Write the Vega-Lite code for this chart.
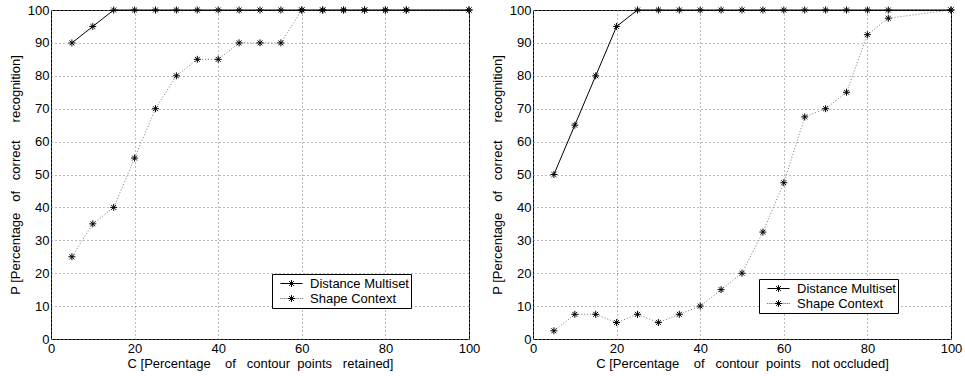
{
  "$schema": "https://vega.github.io/schema/vega-lite/v6.json",
  "padding": {"left": 8, "top": 3, "right": 0, "bottom": 0},
  "spacing": 9,
  "resolve": {"scale": {"shape": "independent"}, "legend": {"shape": "independent"}},
  "config": {
    "font": "Liberation Sans",
    "view": {"stroke": "black", "strokeWidth": 1},
    "axis": {
      "labelFont": "Liberation Sans", "labelFontSize": 13, "labelColor": "black", "labelFlush": false,
      "titleFont": "Liberation Sans", "titleFontSize": 13, "titleFontWeight": "normal", "titleColor": "black",
      "domain": false, "ticks": false,
      "grid": true, "gridColor": "#777", "gridDash": [1, 3], "gridWidth": 1, "gridOpacity": 1
    },
    "axisX": {"labelPadding": 3, "titlePadding": 2},
    "axisY": {"labelPadding": 2, "titlePadding": 5},
    "legend": {
      "labelFont": "Liberation Sans", "labelFontSize": 13, "labelColor": "black",
      "strokeColor": "black", "fillColor": "white", "padding": 2, "rowPadding": 0,
      "labelOffset": 11, "symbolOffset": 10, "symbolStrokeColor": "black", "symbolFillColor": "transparent",
      "symbolStrokeWidth": 1, "symbolSize": 190, "symbolOpacity": 1
    }
  },
  "datasets": {
    "left": [
      {"c": 5, "p": 90, "series": "Distance Multiset"},
      {"c": 10, "p": 95, "series": "Distance Multiset"},
      {"c": 15, "p": 100, "series": "Distance Multiset"},
      {"c": 20, "p": 100, "series": "Distance Multiset"},
      {"c": 25, "p": 100, "series": "Distance Multiset"},
      {"c": 30, "p": 100, "series": "Distance Multiset"},
      {"c": 35, "p": 100, "series": "Distance Multiset"},
      {"c": 40, "p": 100, "series": "Distance Multiset"},
      {"c": 45, "p": 100, "series": "Distance Multiset"},
      {"c": 50, "p": 100, "series": "Distance Multiset"},
      {"c": 55, "p": 100, "series": "Distance Multiset"},
      {"c": 60, "p": 100, "series": "Distance Multiset"},
      {"c": 65, "p": 100, "series": "Distance Multiset"},
      {"c": 70, "p": 100, "series": "Distance Multiset"},
      {"c": 75, "p": 100, "series": "Distance Multiset"},
      {"c": 80, "p": 100, "series": "Distance Multiset"},
      {"c": 85, "p": 100, "series": "Distance Multiset"},
      {"c": 100, "p": 100, "series": "Distance Multiset"},
      {"c": 5, "p": 25, "series": "Shape Context"},
      {"c": 10, "p": 35, "series": "Shape Context"},
      {"c": 15, "p": 40, "series": "Shape Context"},
      {"c": 20, "p": 55, "series": "Shape Context"},
      {"c": 25, "p": 70, "series": "Shape Context"},
      {"c": 30, "p": 80, "series": "Shape Context"},
      {"c": 35, "p": 85, "series": "Shape Context"},
      {"c": 40, "p": 85, "series": "Shape Context"},
      {"c": 45, "p": 90, "series": "Shape Context"},
      {"c": 50, "p": 90, "series": "Shape Context"},
      {"c": 55, "p": 90, "series": "Shape Context"},
      {"c": 60, "p": 100, "series": "Shape Context"},
      {"c": 65, "p": 100, "series": "Shape Context"},
      {"c": 70, "p": 100, "series": "Shape Context"},
      {"c": 75, "p": 100, "series": "Shape Context"},
      {"c": 80, "p": 100, "series": "Shape Context"},
      {"c": 85, "p": 100, "series": "Shape Context"},
      {"c": 100, "p": 100, "series": "Shape Context"}
    ],
    "right": [
      {"c": 5, "p": 50, "series": "Distance Multiset"},
      {"c": 10, "p": 65, "series": "Distance Multiset"},
      {"c": 15, "p": 80, "series": "Distance Multiset"},
      {"c": 20, "p": 95, "series": "Distance Multiset"},
      {"c": 25, "p": 100, "series": "Distance Multiset"},
      {"c": 30, "p": 100, "series": "Distance Multiset"},
      {"c": 35, "p": 100, "series": "Distance Multiset"},
      {"c": 40, "p": 100, "series": "Distance Multiset"},
      {"c": 45, "p": 100, "series": "Distance Multiset"},
      {"c": 50, "p": 100, "series": "Distance Multiset"},
      {"c": 55, "p": 100, "series": "Distance Multiset"},
      {"c": 60, "p": 100, "series": "Distance Multiset"},
      {"c": 65, "p": 100, "series": "Distance Multiset"},
      {"c": 70, "p": 100, "series": "Distance Multiset"},
      {"c": 75, "p": 100, "series": "Distance Multiset"},
      {"c": 80, "p": 100, "series": "Distance Multiset"},
      {"c": 85, "p": 100, "series": "Distance Multiset"},
      {"c": 100, "p": 100, "series": "Distance Multiset"},
      {"c": 5, "p": 2.5, "series": "Shape Context"},
      {"c": 10, "p": 7.5, "series": "Shape Context"},
      {"c": 15, "p": 7.5, "series": "Shape Context"},
      {"c": 20, "p": 5, "series": "Shape Context"},
      {"c": 25, "p": 7.5, "series": "Shape Context"},
      {"c": 30, "p": 5, "series": "Shape Context"},
      {"c": 35, "p": 7.5, "series": "Shape Context"},
      {"c": 40, "p": 10, "series": "Shape Context"},
      {"c": 45, "p": 15, "series": "Shape Context"},
      {"c": 50, "p": 20, "series": "Shape Context"},
      {"c": 55, "p": 32.5, "series": "Shape Context"},
      {"c": 60, "p": 47.5, "series": "Shape Context"},
      {"c": 65, "p": 67.5, "series": "Shape Context"},
      {"c": 70, "p": 70, "series": "Shape Context"},
      {"c": 75, "p": 75, "series": "Shape Context"},
      {"c": 80, "p": 92.5, "series": "Shape Context"},
      {"c": 85, "p": 97.5, "series": "Shape Context"},
      {"c": 100, "p": 100, "series": "Shape Context"}
    ]
  },
  "hconcat": [
    {
      "width": 418, "height": 329,
      "data": {"name": "left"},
      "encoding": {
        "x": {"field": "c", "type": "quantitative", "scale": {"domain": [0, 100], "nice": false},
              "axis": {"values": [0, 20, 40, 60, 80, 100], "title": "C [Percentage\u00a0\u00a0\u00a0 of \u00a0\u00a0contour\u00a0 points \u00a0\u00a0retained]"}},
        "y": {"field": "p", "type": "quantitative", "scale": {"domain": [0, 100], "nice": false},
              "axis": {"values": [0, 10, 20, 30, 40, 50, 60, 70, 80, 90, 100], "title": "P [Percentage \u00a0\u00a0of \u00a0\u00a0correct \u00a0\u00a0\u00a0\u00a0recognition]"}}
      },
      "layer": [
        {
          "transform": [{"filter": "datum.series == 'Shape Context'"}],
          "mark": {"type": "line", "strokeWidth": 1, "color": "#777", "strokeDash": [1, 2]},
          "encoding": {}
        },
        {
          "transform": [{"filter": "datum.series == 'Distance Multiset'"}],
          "mark": {"type": "line", "strokeWidth": 1, "color": "black"},
          "encoding": {}
        },
        {
          "mark": {"type": "point", "filled": false, "color": "black", "strokeWidth": 1, "size": 49, "opacity": 1,
                   "shape": "M-1,0L1,0M0,-1L0,1M-0.7,-0.7L0.7,0.7M-0.7,0.7L0.7,-0.7"},
          "encoding": {}
        },
        {
          "transform": [{"filter": "datum.c < 0"}],
          "mark": {"type": "point", "filled": false, "color": "black", "strokeWidth": 1, "opacity": 1},
          "encoding": {
            "shape": {"field": "series", "type": "nominal",
              "scale": {"domain": ["Distance Multiset", "Shape Context"], "range": [
                "M-1.6,0L1.6,0M0,-0.5L0,0.5M-0.35,-0.35L0.35,0.35M-0.35,0.35L0.35,-0.35",
                "M-1.6,0L-1.5,0M-1.3,0L-1.2,0M-1,0L-0.9,0M-0.7,0L-0.6,0M0.6,0L0.7,0M0.9,0L1,0M1.2,0L1.3,0M1.5,0L1.6,0M-0.5,0L0.5,0M0,-0.5L0,0.5M-0.35,-0.35L0.35,0.35M-0.35,0.35L0.35,-0.35"]},
              "legend": {"title": null, "orient": "none", "legendX": 221, "legendY": 264}
            }
          }
        }
      ]
    },
    {
      "width": 418, "height": 329,
      "data": {"name": "right"},
      "encoding": {
        "x": {"field": "c", "type": "quantitative", "scale": {"domain": [0, 100], "nice": false},
              "axis": {"values": [0, 20, 40, 60, 80, 100], "title": "C [Percentage\u00a0\u00a0\u00a0 of \u00a0\u00a0contour\u00a0 points \u00a0\u00a0not occluded]"}},
        "y": {"field": "p", "type": "quantitative", "scale": {"domain": [0, 100], "nice": false},
              "axis": {"values": [0, 10, 20, 30, 40, 50, 60, 70, 80, 90, 100], "title": "P [Percentage \u00a0\u00a0of \u00a0\u00a0correct \u00a0\u00a0\u00a0\u00a0recognition]"}}
      },
      "layer": [
        {
          "transform": [{"filter": "datum.series == 'Shape Context'"}],
          "mark": {"type": "line", "strokeWidth": 1, "color": "#777", "strokeDash": [1, 2]},
          "encoding": {}
        },
        {
          "transform": [{"filter": "datum.series == 'Distance Multiset'"}],
          "mark": {"type": "line", "strokeWidth": 1, "color": "black"},
          "encoding": {}
        },
        {
          "mark": {"type": "point", "filled": false, "color": "black", "strokeWidth": 1, "size": 49, "opacity": 1,
                   "shape": "M-1,0L1,0M0,-1L0,1M-0.7,-0.7L0.7,0.7M-0.7,0.7L0.7,-0.7"},
          "encoding": {}
        },
        {
          "transform": [{"filter": "datum.c < 0"}],
          "mark": {"type": "point", "filled": false, "color": "black", "strokeWidth": 1, "opacity": 1},
          "encoding": {
            "shape": {"field": "series", "type": "nominal",
              "scale": {"domain": ["Distance Multiset", "Shape Context"], "range": [
                "M-1.6,0L1.6,0M0,-0.5L0,0.5M-0.35,-0.35L0.35,0.35M-0.35,0.35L0.35,-0.35",
                "M-1.6,0L-1.5,0M-1.3,0L-1.2,0M-1,0L-0.9,0M-0.7,0L-0.6,0M0.6,0L0.7,0M0.9,0L1,0M1.2,0L1.3,0M1.5,0L1.6,0M-0.5,0L0.5,0M0,-0.5L0,0.5M-0.35,-0.35L0.35,0.35M-0.35,0.35L0.35,-0.35"]},
              "legend": {"title": null, "orient": "none", "legendX": 226, "legendY": 269}
            }
          }
        }
      ]
    }
  ]
}
